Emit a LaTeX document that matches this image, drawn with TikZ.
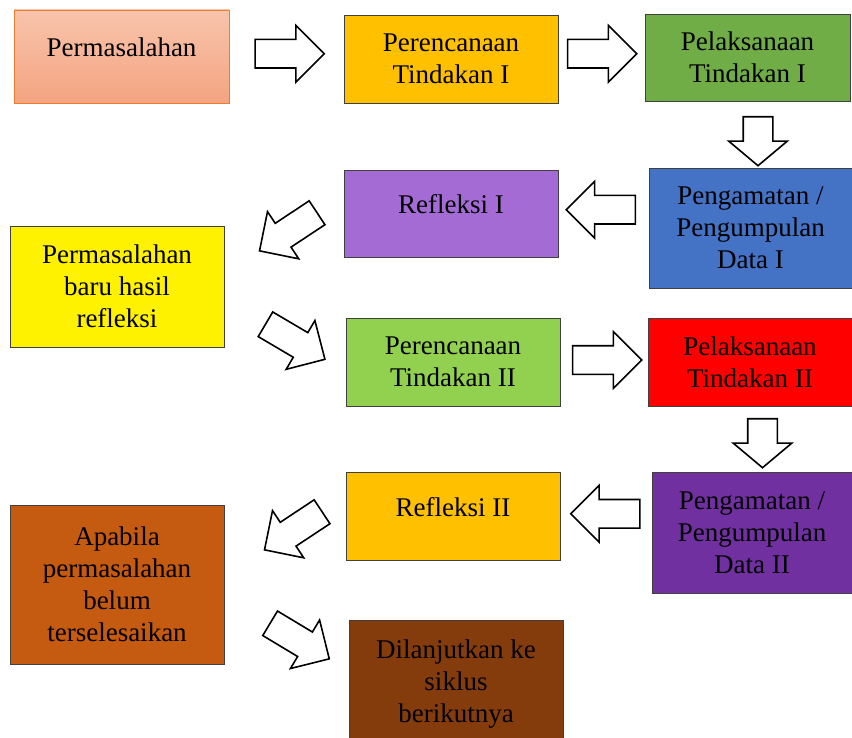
\documentclass[tikz,border=0pt]{standalone}
\usepackage{fontspec}
\setmainfont{Liberation Serif}
\usetikzlibrary{shapes,positioning,calc}
\definecolor{salmonatas}{RGB}{248,196,172}
\definecolor{salmonbawah}{RGB}{244,164,128}
\definecolor{oranyegaris}{RGB}{237,125,49}
\definecolor{emas}{RGB}{255,192,0}
\definecolor{hijautua}{RGB}{112,173,71}
\definecolor{hijaumuda}{RGB}{146,208,80}
\definecolor{biru}{RGB}{68,114,196}
\definecolor{ungumuda}{RGB}{165,107,212}
\definecolor{ungutua}{RGB}{112,48,160}
\definecolor{oranye}{RGB}{197,90,17}
\definecolor{coklat}{RGB}{132,60,12}

\begin{document}
\begin{tikzpicture}[x=1pt,y=-1pt,
    kotak/.style={draw=black!75,line width=0.9pt,align=center,inner sep=0pt,
      font=\fontsize{27}{32}\selectfont},
    satubaris/.style={text depth=19pt},
    panah/.style={single arrow,draw=black,line width=1.6pt,fill=white,
      inner xsep=0pt,inner ysep=13.5pt,
      minimum height=69pt,minimum width=56pt,single arrow head extend=14pt},
    panahbawah/.style={panah,minimum height=49pt,minimum width=58pt,
      inner ysep=14pt,single arrow head extend=14.5pt,single arrow tip angle=100}]
  \useasboundingbox (0,0) rectangle (852,738);

  % kotak-kotak tahapan
  \node[kotak,satubaris,minimum width=215pt,minimum height=93pt,draw=oranyegaris,
        top color=salmonatas,bottom color=salmonbawah] (perm) at (121.5,56.5) {Permasalahan};
  \node[kotak,fill=emas,minimum width=214pt,minimum height=88pt] (ren1) at (451,59) {Perencanaan\\Tindakan I};
  \node[kotak,fill=hijautua,minimum width=205pt,minimum height=87pt] (lak1) at (747.5,57.5) {Pelaksanaan\\Tindakan I};
  \node[kotak,fill=biru,minimum width=203pt,minimum height=120pt] (amat1) at (750.5,228) {Pengamatan /\\Pengumpulan\\Data I};
  \node[kotak,satubaris,fill=ungumuda,minimum width=214pt,minimum height=87pt] (ref1) at (451,213.5) {Refleksi I};
  \node[kotak,fill=yellow,minimum width=214pt,minimum height=121pt] (baru) at (117,286.5) {Permasalahan\\baru hasil\\refleksi};
  \node[kotak,fill=hijaumuda,minimum width=214pt,minimum height=88pt] (ren2) at (453,362) {Perencanaan\\Tindakan II};
  \node[kotak,fill=red,minimum width=204pt,minimum height=88pt] (lak2) at (750,362) {Pelaksanaan\\Tindakan II};
  \node[kotak,fill=ungutua,minimum width=200pt,minimum height=121pt] (amat2) at (752,532.5) {Pengamatan /\\Pengumpulan\\Data II};
  \node[kotak,satubaris,fill=emas,minimum width=214pt,minimum height=88pt] (ref2) at (453,516) {Refleksi II};
  \node[kotak,fill=oranye,minimum width=214pt,minimum height=159pt] (apabila) at (117,584.5) {Apabila\\permasalahan\\belum\\terselesaikan};
  \node[kotak,fill=coklat,minimum width=214pt,minimum height=128pt] (lanjut) at (456,684) {Dilanjutkan ke\\siklus\\berikutnya};

  % panah blok (geser dulu, lalu putar, lalu koreksi sepanjang panah)
  \node[panah,xshift=-4pt,yshift=4pt] (a1) at ($(perm.east)!0.5!(ren1.west)$) {};
  \node[panah,xshift=-6.5pt,yshift=4.5pt] (a2) at ($(ren1.east)!0.5!(lak1.west)$) {};
  \node[panahbawah,xshift=9pt,yshift=-5.5pt,rotate=-90,xshift=-5pt] (a3) at ($(lak1.south)!0.5!(amat1.north)$) {};
  \node[panah,xshift=-3pt,yshift=11pt,rotate=180,xshift=-7.5pt] (a4) at ($(amat1.west)!0.5!(ref1.east)$) {};
  \node[panah,xshift=4pt,yshift=9.5pt,rotate=213.5,xshift=-7.5pt] (a5) at ($(ref1.south west)!0.5!(baru.north east)$) {};
  \node[panah,xshift=10.5pt,yshift=4.5pt,rotate=-30.5,xshift=-7.5pt] (a6) at ($(baru.east)!0.5!(ren2.south west)$) {};
  \node[panah,xshift=-4pt,yshift=2pt] (a7) at ($(ren2.east)!0.5!(lak2.west)$) {};
  \node[panahbawah,xshift=11.5pt,yshift=-3pt,rotate=-90,xshift=-5pt] (a8) at ($(lak2.south)!0.5!(amat2.north)$) {};
  \node[panah,xshift=-1pt,yshift=10.5pt,rotate=180,xshift=-7.5pt] (a9) at ($(amat2.west)!0.5!(ref2.east)$) {};
  \node[panah,xshift=8pt,yshift=1.5pt,rotate=213.5,xshift=-7.5pt] (a10) at ($(ref2.south west)!0.5!(apabila.north east)$) {};
  \node[panah,xshift=13.5pt,yshift=-7pt,rotate=-31,xshift=-7.5pt] (a11) at ($(apabila.east)!0.5!(lanjut.west)$) {};
\end{tikzpicture}
\end{document}
